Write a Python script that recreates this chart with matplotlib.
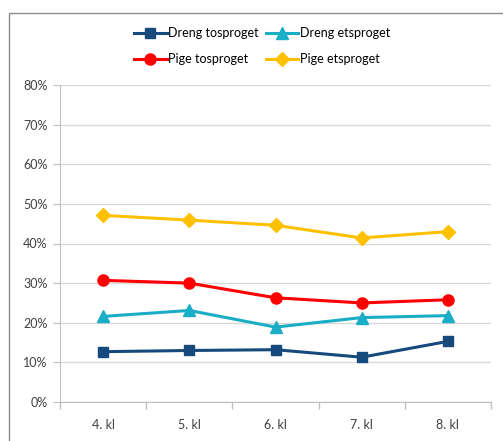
import numpy as np
import matplotlib.pyplot as plt
from matplotlib.patches import Rectangle
from matplotlib.ticker import FuncFormatter, FixedLocator

plt.rcParams['font.family'] = ['Lato', 'DejaVu Sans']

# Data
klasser = ['4. kl', '5. kl', '6. kl', '7. kl', '8. kl']
dreng_tos = [12.7, 13.0, 13.2, 11.3, 15.3]
dreng_ets = [21.6, 23.1, 18.9, 21.3, 21.8]
pige_tos = [30.7, 30.0, 26.3, 25.0, 25.8]
pige_ets = [47.1, 45.9, 44.6, 41.4, 43.0]

fig = plt.figure(figsize=(5.03, 4.41), dpi=100)
ax = fig.add_axes([60 / 503, 39 / 441, 431 / 503, 317 / 441])

# Ramme om hele diagrammet (kun venstre og top synlige)
fig.patches.append(Rectangle((8.5 / 503, -0.1), 1.0, 1.1 - 13.5 / 441, transform=fig.transFigure,
                             fill=False, edgecolor='#8c8c8c', linewidth=1.0))

x = np.arange(len(klasser))
serier = [
    ('Dreng tosproget', dreng_tos, '#174A7C', 's', 7),
    ('Dreng etsproget', dreng_ets, '#1AADC6', '^', 8),
    ('Pige tosproget', pige_tos, '#FF0000', 'o', 8),
    ('Pige etsproget', pige_ets, '#FFC000', 'D', 7),
]
lines = {}
for navn, vals, farve, mk, ms in serier:
    l, = ax.plot(x, vals, color=farve, marker=mk, markersize=ms, linewidth=2.2, label=navn)
    lines[navn] = l

ax.set_xlim(-0.5, len(klasser) - 0.5)
ax.set_ylim(0, 80)
ax.set_yticks(np.arange(0, 81, 10))
ax.yaxis.set_major_formatter(FuncFormatter(lambda v, p: f'{v:.0f}%'))
ax.grid(axis='y', color='#d9d9d9', linewidth=1)
ax.set_axisbelow(True)

ax.set_xticks(x)
ax.set_xticklabels(klasser)
ax.xaxis.set_minor_locator(FixedLocator(np.arange(-0.5, len(klasser), 1)))
ax.tick_params(axis='x', which='major', length=0, pad=12, labelsize=9, labelcolor='#404040')
ax.tick_params(axis='x', which='minor', length=5, color='#bfbfbf', width=1)
ax.tick_params(axis='y', length=5, color='#bfbfbf', labelsize=9, labelcolor='#404040', pad=4)

for s in ['top', 'right']:
    ax.spines[s].set_visible(False)
ax.spines['left'].set_color('#bfbfbf')
ax.spines['bottom'].set_color('#bfbfbf')

rekke = ['Dreng tosproget', 'Pige tosproget', 'Dreng etsproget', 'Pige etsproget']
fig.legend([lines[n] for n in rekke], rekke, ncol=2, frameon=False,
           loc='center', bbox_to_anchor=(262 / 503, 1 - 46 / 441),
           fontsize=9, handlelength=2.6, handletextpad=0.1, columnspacing=0.6,
           labelspacing=1.1, borderaxespad=0)

fig.savefig('out.png', dpi=100)
